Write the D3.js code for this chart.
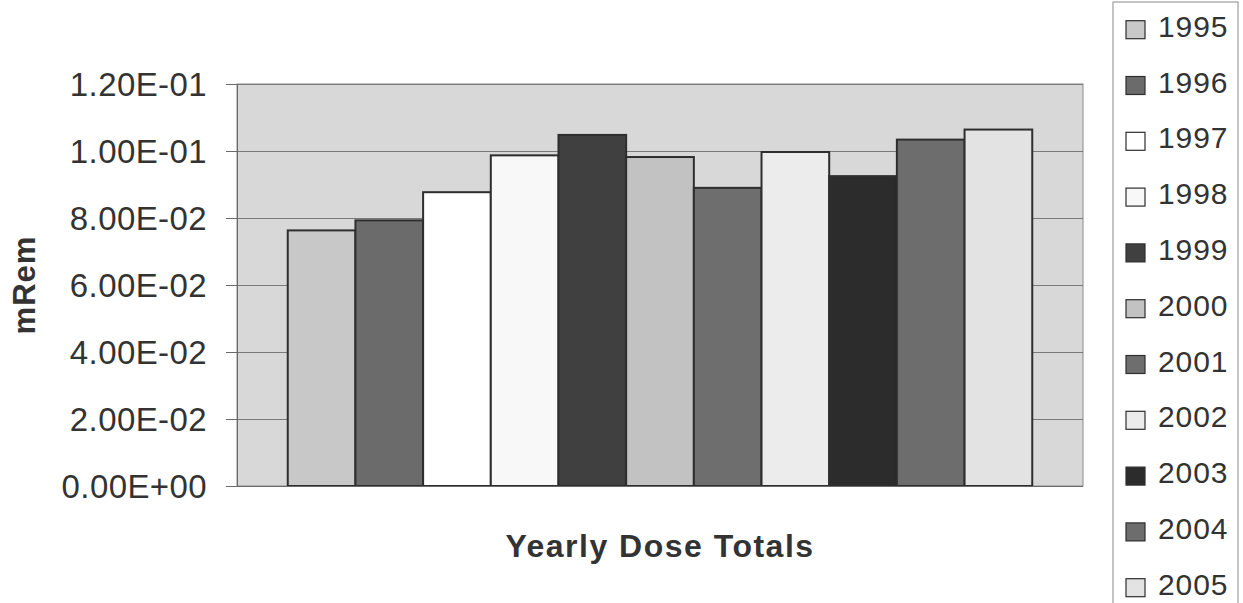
<!DOCTYPE html>
<html>
<head>
<meta charset="utf-8">
<script src="https://cdn.jsdelivr.net/npm/d3@7"></script>
<style>
  html, body { margin: 0; padding: 0; background: #ffffff; }
  svg { display: block; }
  text { font-family: "Liberation Sans", Arial, sans-serif; fill: #333333; }
</style>
</head>
<body>
<svg id="chart" width="1243" height="603"></svg>
<script>
// Yearly dose totals (mRem), one series per year
const years = ["1995", "1996", "1997", "1998", "1999", "2000", "2001", "2002", "2003", "2004", "2005"];
const doses = [0.0763, 0.0793, 0.0877, 0.0987, 0.1048, 0.0982, 0.0890, 0.0997, 0.0925, 0.1034, 0.1064];
const fills = ["#c8c8c8", "#6b6b6b", "#ffffff", "#f8f8f8", "#404040", "#c2c2c2", "#6e6e6e", "#ececec", "#2c2c2c", "#6d6d6d", "#e3e3e3"];
const yTicks = [0, 0.02, 0.04, 0.06, 0.08, 0.10, 0.12];
const categoryLabel = "Yearly Dose Totals";
const yLabel = "mRem";

const svg = d3.select("#chart");
const plot = { left: 237, top: 84, right: 1083, bottom: 486 };

// Excel-style scientific notation, e.g. 1.20E-01
function sci(v) {
  const [m, e] = v.toExponential(2).split("e");
  const sign = e[0] === "-" ? "-" : "+";
  const digits = e.replace(/[+-]/, "").padStart(2, "0");
  return m + "E" + sign + digits;
}

const x = d3.scaleBand()
  .domain(years)
  .range([plot.left, plot.right])
  .paddingInner(0)
  .paddingOuter(0.75);

const y = d3.scaleLinear()
  .domain([0, 0.12])
  .range([plot.bottom, plot.top]);

// plot area background
svg.append("rect")
  .attr("x", plot.left).attr("y", plot.top)
  .attr("width", plot.right - plot.left)
  .attr("height", plot.bottom - plot.top)
  .attr("fill", "#d8d8d8")
  .attr("stroke", "#8a8a8a")
  .attr("stroke-width", 1);

// horizontal gridlines
svg.append("g")
  .selectAll("line")
  .data(yTicks.slice(1))
  .join("line")
  .attr("x1", plot.left).attr("x2", plot.right)
  .attr("y1", d => Math.round(y(d)) + 0.5)
  .attr("y2", d => Math.round(y(d)) + 0.5)
  .attr("stroke", "#7a7a7a")
  .attr("stroke-width", 1);

// y axis
const yAxis = d3.axisLeft(y)
  .tickValues(yTicks)
  .tickFormat(sci)
  .tickSize(11)
  .tickPadding(19);

const gy = svg.append("g")
  .attr("transform", `translate(${plot.left},0)`)
  .call(yAxis);
gy.select(".domain").attr("stroke", "#6a6a6a");
gy.selectAll(".tick line").attr("stroke", "#6a6a6a");
gy.selectAll(".tick text")
  .attr("font-size", 33)
  .attr("font-family", "Liberation Sans, Arial, sans-serif")
  .attr("fill", "#333333")
  .attr("letter-spacing", 0.4)
  .attr("dy", "0.34em");

// bars
svg.append("g")
  .selectAll("rect")
  .data(years.map((yr, i) => ({ yr, v: doses[i], c: fills[i] })))
  .join("rect")
  .attr("x", d => x(d.yr))
  .attr("y", d => y(d.v))
  .attr("width", x.bandwidth())
  .attr("height", d => y(0) - y(d.v))
  .attr("fill", d => d.c)
  .attr("stroke", "#2e2e2e")
  .attr("stroke-width", 2);

// baseline
svg.append("line")
  .attr("x1", plot.left - 11).attr("x2", plot.right)
  .attr("y1", plot.bottom + 0.5).attr("y2", plot.bottom + 0.5)
  .attr("stroke", "#6a6a6a");

// axis titles
svg.append("text")
  .attr("x", (plot.left + plot.right) / 2)
  .attr("y", 557)
  .attr("text-anchor", "middle")
  .attr("font-size", 32)
  .attr("font-weight", "bold")
  .attr("letter-spacing", 1.5)
  .text(categoryLabel);

svg.append("text")
  .attr("transform", "translate(35,285) rotate(-90)")
  .attr("text-anchor", "middle")
  .attr("font-size", 31)
  .attr("font-weight", "bold")
  .attr("letter-spacing", 1)
  .text(yLabel);

// legend
const legend = svg.append("g");
legend.append("rect")
  .attr("x", 1113).attr("y", 2)
  .attr("width", 125).attr("height", 640)
  .attr("fill", "#ffffff")
  .attr("stroke", "#8a8a8a")
  .attr("stroke-width", 1);

const step = 55.8;
const items = legend.selectAll("g.item")
  .data(years.map((yr, i) => ({ yr, c: fills[i] })))
  .join("g")
  .attr("class", "item")
  .attr("transform", (d, i) => `translate(0,${36.7 + i * step})`);

items.append("rect")
  .attr("x", 1126).attr("y", -16)
  .attr("width", 19).attr("height", 18)
  .attr("fill", d => d.c)
  .attr("stroke", "#2e2e2e")
  .attr("stroke-width", 1.2);

items.append("text")
  .attr("x", 1158)
  .attr("y", 0)
  .attr("font-size", 30)
  .attr("letter-spacing", 0.9)
  .text(d => d.yr);
</script>
</body>
</html>
